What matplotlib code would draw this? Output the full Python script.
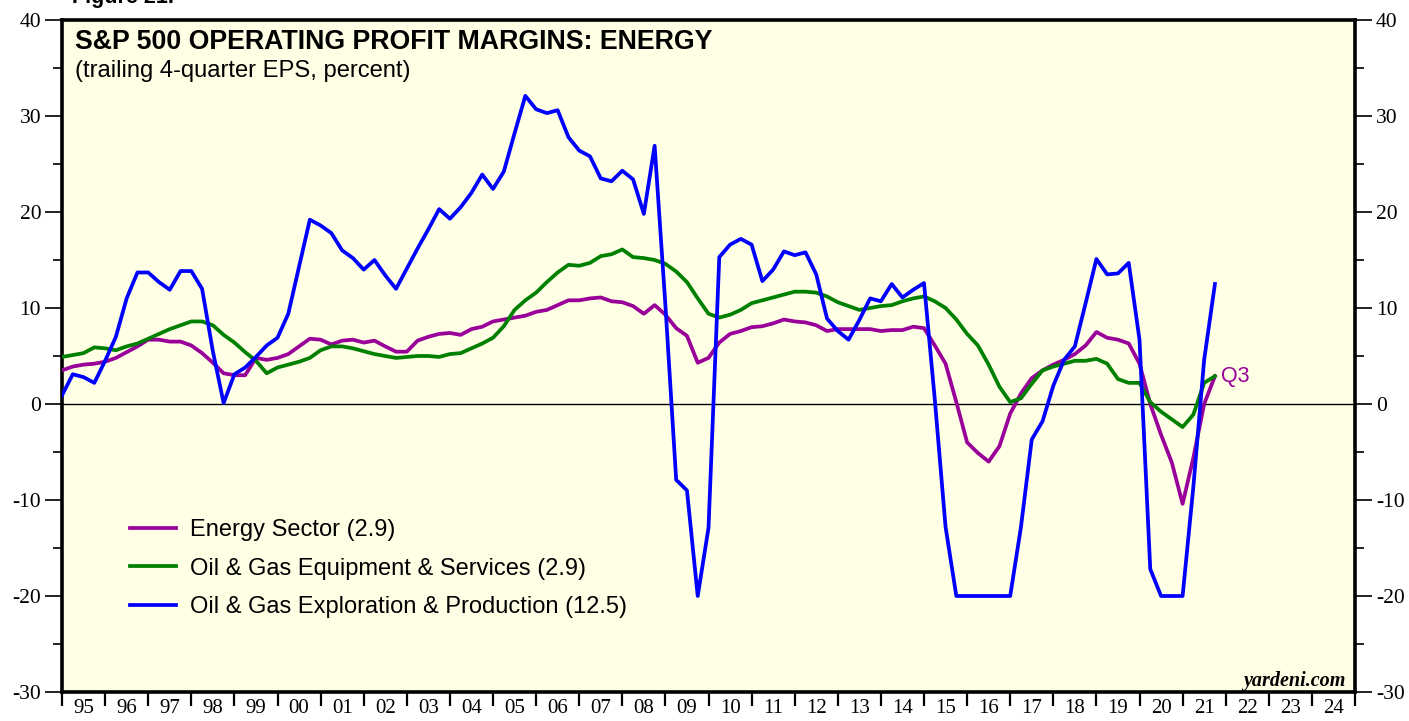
from matplotlib import pyplot as plt
from matplotlib.lines import Line2D
import numpy as np


PURPLE = "#990099"
GREEN = "#008000"
BLUE = "#0000FF"
BG = "#FFFFE6"

plt.rcParams["axes.unicode_minus"] = False

# quarterly observations, first point sits on 1995.0, last one is 2021 Q3
quarters = np.arange(1995.0, 2021.76, 0.25)

energy = [3.5, 3.9, 4.1, 4.2, 4.4, 4.8, 5.4, 6.0, 6.7, 6.7, 6.5, 6.5, 6.1, 5.3, 4.3, 3.2,
          3.0, 3.0, 4.8, 4.6, 4.8, 5.2, 6.0, 6.8, 6.7, 6.2, 6.6, 6.7, 6.4, 6.6, 6.0, 5.45,
          5.45, 6.6, 7.0, 7.3, 7.4, 7.2, 7.8, 8.05, 8.6, 8.8, 9.0, 9.2, 9.6, 9.8, 10.3, 10.8,
          10.8, 11.0, 11.1, 10.7, 10.6, 10.2, 9.4, 10.3, 9.3, 7.9, 7.1, 4.3, 4.8, 6.4, 7.3, 7.6,
          8.0, 8.1, 8.4, 8.8, 8.6, 8.5, 8.2, 7.6, 7.8, 7.8, 7.8, 7.8, 7.6, 7.7, 7.7, 8.05,
          7.9, 6.1, 4.2, 0.2, -4.0, -5.1, -6.0, -4.4, -1.0, 1.1, 2.7, 3.5, 4.1, 4.6, 5.2, 6.1,
          7.5, 6.9, 6.7, 6.3, 4.2, 0.0, -3.2, -6.1, -10.4, -5.6, 0.0, 2.9]

equipment = [4.9, 5.1, 5.3, 5.9, 5.8, 5.6, 6.0, 6.3, 6.8, 7.3, 7.8, 8.2, 8.6, 8.6, 8.2, 7.2,
             6.4, 5.4, 4.5, 3.2, 3.8, 4.1, 4.4, 4.8, 5.6, 6.0, 6.0, 5.8, 5.5, 5.2, 5.0, 4.8,
             4.9, 5.0, 5.0, 4.9, 5.2, 5.3, 5.8, 6.3, 6.9, 8.1, 9.8, 10.8, 11.6, 12.7, 13.7, 14.5,
             14.4, 14.7, 15.4, 15.6, 16.1, 15.3, 15.2, 15.0, 14.6, 13.8, 12.7, 11.0, 9.4, 9.0, 9.3, 9.8,
             10.5, 10.8, 11.1, 11.4, 11.7, 11.7, 11.6, 11.2, 10.6, 10.2, 9.8, 10.0, 10.2, 10.3, 10.7, 11.0,
             11.2, 10.7, 10.0, 8.8, 7.3, 6.1, 4.1, 1.8, 0.2, 0.6, 2.1, 3.5, 3.9, 4.2, 4.5, 4.5,
             4.7, 4.2, 2.6, 2.2, 2.2, 0.2, -0.8, -1.6, -2.4, -1.1, 2.2, 2.9]

exploration = [0.9, 3.1, 2.8, 2.2, 4.5, 7.0, 11.0, 13.7, 13.7, 12.7, 11.9, 13.85, 13.85, 12.0, 5.5, 0.1,
               3.1, 3.8, 4.9, 6.1, 6.9, 9.4, 14.3, 19.2, 18.6, 17.8, 16.0, 15.2, 14.0, 15.0, 13.4, 12.0,
               14.1, 16.2, 18.2, 20.3, 19.3, 20.5, 22.0, 23.9, 22.4, 24.2, 28.2, 32.1, 30.7, 30.3, 30.6, 27.8,
               26.4, 25.8, 23.5, 23.2, 24.3, 23.4, 19.8, 26.9, 10.3, -7.9, -9.0, -20.0, -12.9, 15.3, 16.6, 17.2,
               16.6, 12.8, 14.0, 15.9, 15.5, 15.8, 13.5, 8.9, 7.6, 6.7, 8.75, 11.0, 10.7, 12.5, 11.1, 11.9,
               12.6, 0.5, -12.8, -20.0, -20.0, -20.0, -20.0, -20.0, -20.0, -12.8, -3.7, -1.8, 1.9, 4.6, 6.0, 10.5,
               15.1, 13.5, 13.6, 14.7, 6.7, -17.2, -20.0, -20.0, -20.0, -8.6, 4.6, 12.5]

labels = ["Energy Sector (2.9)",
          "Oil & Gas Equipment & Services (2.9)",
          "Oil & Gas Exploration & Production (12.5)"]

years = list(range(1995, 2026))
year_labels = ["%02d" % (y % 100) for y in years[:-1]]

W, H = 1409, 721
fig = plt.figure(figsize=(W / 100, H / 100), dpi=100)
ax = fig.add_axes([62 / W, 1 - 692 / H, (1355 - 62) / W, (692 - 20) / H])
ax.set_facecolor(BG)
ax.set_xlim(1995, 2025)
ax.set_ylim(-30, 40)

ax.axhline(0, color="black", lw=1.0, zorder=1)

ax.plot(quarters, energy, color=PURPLE, lw=2.7, zorder=3)
ax.plot(quarters, equipment, color=GREEN, lw=2.7, zorder=4)
ax.plot(quarters, exploration, color=BLUE, lw=2.7, zorder=5)

# x axis: ticks on year boundaries, labels in the middle of each year
ax.set_xticks(years)
ax.set_xticklabels([])
ax.set_xticks([y + 0.5 for y in years[:-1]], minor=True)
ax.set_xticklabels(year_labels, minor=True, family="Liberation Serif", fontsize=15)
ax.tick_params(axis="x", which="major", direction="out", length=10, width=1.6, top=False)
ax.tick_params(axis="x", which="minor", length=0, pad=5, top=False)

# y axis on both sides
ax.set_yticks(range(-30, 41, 10))
ax.set_yticks(range(-25, 40, 10), minor=True)
ax.tick_params(axis="y", which="major", direction="out", length=12, width=1.2,
               left=True, right=True, labelleft=True, labelright=True, pad=3)
ax.tick_params(axis="y", which="minor", direction="out", length=6.5, width=1.2,
               left=True, right=True)
for t in ax.get_yticklabels():
    t.set_family("Liberation Serif")
    t.set_fontsize(15.5)

for s in ax.spines.values():
    s.set_linewidth(2.6)

# titles
fig.text(72 / W, 1 + 3 / H, "Figure 21.", fontsize=15.5, fontweight="bold",
         family="Liberation Sans", va="center", ha="left")
fig.text(75 / W, 1 - 42 / H, "S&P 500 OPERATING PROFIT MARGINS: ENERGY", fontsize=19.3,
         fontweight="bold", family="Liberation Sans", va="center", ha="left")
fig.text(75 / W, 1 - 71 / H, "(trailing 4-quarter EPS, percent)", fontsize=17.1,
         family="Liberation Sans", va="center", ha="left")

handles = [Line2D([], [], color=c, lw=2.7) for c in (PURPLE, GREEN, BLUE)]
ax.legend(handles, labels, loc="upper left", bbox_to_anchor=((130 - 62) / 1293, (692 - 519) / 672),
          frameon=False, borderpad=0, borderaxespad=0, handlelength=1.95, handletextpad=0.6,
          labelspacing=0.7, prop={"family": "Liberation Sans", "size": 17})

ax.text(quarters[-1] + 0.14, energy[-1], "Q3", color=PURPLE, fontsize=15.5,
        family="Liberation Sans", va="center", ha="left")

ax.text((1345 - 62) / 1293, (692 - 686) / 672, "yardeni.com", transform=ax.transAxes,
        ha="right", va="baseline", family="Liberation Serif", fontsize=14.5,
        fontweight="bold", fontstyle="italic")

fig.savefig("out.png", dpi=100, facecolor="white")
